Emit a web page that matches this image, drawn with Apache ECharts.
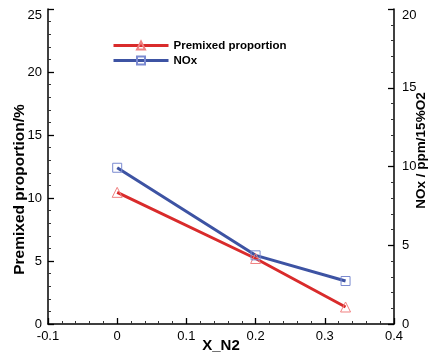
<!DOCTYPE html>
<html><head><meta charset="utf-8">
<script src="https://cdn.jsdelivr.net/npm/echarts@6/dist/echarts.min.js"></script>
<style>html,body{margin:0;padding:0;background:#fff}#c{width:430px;height:356px}</style>
</head><body><div id="c"></div>
<script>
const xValues = [0, 0.2, 0.33];
const premixed = [10.45, 5.2, 1.35];
const nox = [9.92, 4.36, 2.73];
const seriesNames = ['Premixed proportion', 'NOx'];
const xTickLabels = ['-0.1', '0', '0.1', '0.2', '0.3', '0.4'];

const chart = echarts.init(document.getElementById('c'), null, {renderer: 'canvas'});
const fontFam = 'Liberation Sans, Arial, sans-serif';
const axisCommon = {
  nameMoveOverlap: false,
  axisLine: {show: true, onZero: false, lineStyle: {color: '#000', width: 1.5}},
  axisTick: {show: true, inside: true, length: 6, lineStyle: {color: '#000', width: 1.3}},
  minorTick: {show: true, splitNumber: 5, length: 3, lineStyle: {color: '#333', width: 1}},
  splitLine: {show: false},
  axisLabel: {color: '#000', fontSize: 13, fontFamily: fontFam},
  nameTextStyle: {color: '#000', fontSize: 15.5, fontWeight: 'bold', fontFamily: fontFam}
};
chart.setOption({
  animation: false,
  grid: {left: 48, right: 36, top: 9, bottom: 32, containLabel: false, outerBoundsMode: 'none'},
  legend: {
    orient: 'vertical', left: 107, top: 34, itemGap: 2, itemWidth: 55, itemHeight: 10,
    textStyle: {color: '#000', fontSize: 11.5, fontWeight: 'bold', fontFamily: fontFam, lineHeight: 13},
    data: [
      {name: seriesNames[0], lineStyle: {width: 3}},
      {name: seriesNames[1], lineStyle: {width: 3}}
    ]
  },
  xAxis: Object.assign({}, axisCommon, {
    type: 'value', min: -0.1, max: 0.4, interval: 0.1,
    name: 'X_N2', nameLocation: 'middle', nameGap: 14,
    nameTextStyle: Object.assign({}, axisCommon.nameTextStyle, {fontSize: 15, verticalAlign: 'top'}),
    axisLabel: Object.assign({}, axisCommon.axisLabel, {margin: 6,
      formatter: v => xTickLabels[Math.round((v + 0.1) * 10)]})
  }),
  yAxis: [
    Object.assign({}, axisCommon, {
      type: 'value', min: 0, max: 25, interval: 5, position: 'left',
      name: 'Premixed proportion/%', nameLocation: 'middle', nameGap: 20,
      nameTextStyle: Object.assign({}, axisCommon.nameTextStyle, {padding: [0, 46, 0, 0]}),
      axisLabel: Object.assign({}, axisCommon.axisLabel, {margin: 6, verticalAlignMaxLabel: 'top'})
    }),
    Object.assign({}, axisCommon, {
      type: 'value', min: 0, max: 20, interval: 5, position: 'right',
      name: 'NOx / ppm/15%O2', nameLocation: 'middle', nameGap: 20, nameRotate: 90,
      nameTextStyle: Object.assign({}, axisCommon.nameTextStyle, {fontSize: 13.5, padding: [0, 0, 0, 32]}),
      axisLabel: Object.assign({}, axisCommon.axisLabel, {margin: 8, verticalAlignMaxLabel: 'top'})
    })
  ],
  series: [
    {
      name: seriesNames[0], type: 'line', yAxisIndex: 0,
      data: xValues.map((x, i) => [x, premixed[i]]),
      symbol: 'triangle', symbolSize: 10, showAllSymbol: true,
      lineStyle: {color: '#d92b2b', width: 3},
      itemStyle: {color: 'rgba(255,255,255,0)', borderColor: '#f08080', borderWidth: 1}
    },
    {
      name: seriesNames[1], type: 'line', yAxisIndex: 1,
      data: xValues.map((x, i) => [x, nox[i]]),
      symbol: 'rect', symbolSize: 9, showAllSymbol: true,
      lineStyle: {color: '#3d53a3', width: 3},
      itemStyle: {color: 'rgba(255,255,255,0)', borderColor: '#7b8ad0', borderWidth: 1}
    }
  ]
});
</script></body></html>
